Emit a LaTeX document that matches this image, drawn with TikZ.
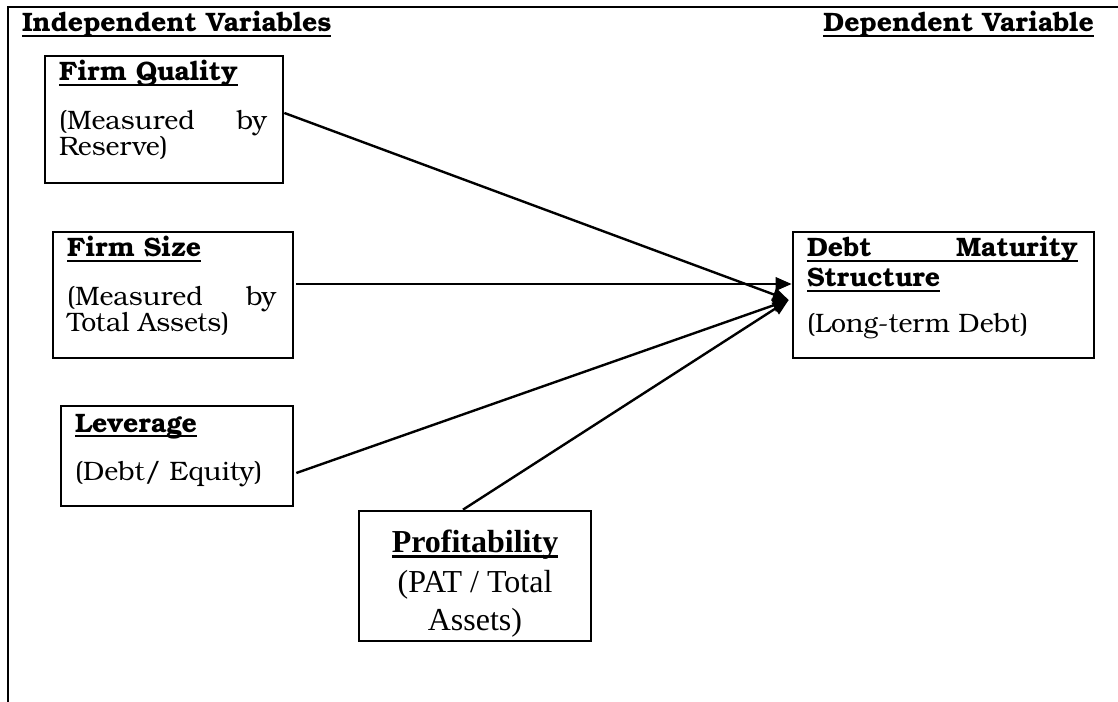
\documentclass[tikz,border=0pt]{standalone}
\usepackage{fontspec}
\setmainfont{TeX Gyre Bonum}
\newfontfamily\timesf{Liberation Serif}
\usetikzlibrary{arrows.meta,fit}
\newcommand\myul[1]{\vtop{\hbox{\raisebox{0pt}[\height][0pt]{#1}}\kern2.2pt\hrule height 1.7pt}}
\newcommand\myulb[1]{\vtop{\hbox{\raisebox{0pt}[\height][0pt]{#1}}\kern2.6pt\hrule height 2.1pt}}
\tikzset{
  frame/.style={line width=2.2pt},
  box/.style={draw, line width=2pt, inner sep=0pt},
  txt/.style={inner sep=0pt, outer sep=0pt, font=\fontsize{20pt}{24pt}\selectfont},
  ttxt/.style={inner sep=0pt, outer sep=0pt, font=\timesf\fontsize{24pt}{29pt}\selectfont},
  conn/.style={line width=1.8pt, -{Triangle[length=12pt,width=10pt]}}
}
\begin{document}
\begin{tikzpicture}[x=0.75pt,y=-0.75pt]
\useasboundingbox (0,0) rectangle (1118,702);
% outer frame
\draw[frame] (8,702) -- (8,7) -- (1118,7);
% headings
\node[txt, anchor=base west] (hind) at (22,32) {\myul{\bfseries Independent Variables}};
\node[txt, anchor=base east] (hdep) at (1094,32) {\myul{\bfseries Dependent Variable}};
% boxes
\node[box, fit={(45,56)(283,183)}] (fq) {};
\node[box, fit={(53,232)(293,358)}] (fs) {};
\node[box, fit={(61,406)(293,506)}] (lev) {};
\node[box, fit={(359,511)(591,641)}] (pr) {};
\node[box, fit={(793,232)(1094,358)}] (dm) {};
% Firm Quality
\node[txt, anchor=base west] (fq1) at (59,81) {\myul{\bfseries Firm Quality}};
\node[txt, anchor=base west] (fq2) at (59,130) {\makebox[156pt][l]{(Measured\hfill by}};
\node[txt, anchor=base west] (fq3) at (59,156) {Reserve)};
% Firm Size
\node[txt, anchor=base west] (fs1) at (67,257) {\myul{\bfseries Firm Size}};
\node[txt, anchor=base west] (fs2) at (67,306) {\makebox[157pt][l]{(Measured\hfill by}};
\node[txt, anchor=base west] (fs3) at (67,332) {Total Assets)};
% Leverage
\node[txt, anchor=base west] (lv1) at (75,432) {\myul{\bfseries Leverage}};
\node[txt, anchor=base west] (lv2) at (75,480) {(Debt/ Equity)};
% Debt Maturity Structure
\node[txt, anchor=base west] (dm1) at (807,257) {\myul{\makebox[203pt][l]{\bfseries Debt\hfill Maturity}}};
\node[txt, anchor=base west] (dm2) at (807,287) {\myul{\bfseries Structure}};
\node[txt, anchor=base west] (dm3) at (807,333) {(Long-term Debt)};
% Profitability
\node[ttxt, anchor=base] (pr1) at (475,552) {\myulb{\bfseries Profitability}};
\node[ttxt, anchor=base] (pr2) at (475,592) {(PAT / Total};
\node[ttxt, anchor=base] (pr3) at (475,630) {Assets)};
% connectors
\draw[conn] ([yshift=4.9pt]fq.east) -- ([shift={(-2.25pt,-3.75pt)}]dm.west);
\draw[conn] ([shift={(1.5pt,8.25pt)}]fs.east) -- ([yshift=8.25pt]dm.west);
\draw[conn] ([shift={(1.5pt,-12.75pt)}]lev.east) -- ([shift={(-2.25pt,-3.75pt)}]dm.west);
\draw[conn] ([xshift=-9pt]pr.north) -- ([shift={(-2.25pt,-3.75pt)}]dm.west);
\end{tikzpicture}
\end{document}
